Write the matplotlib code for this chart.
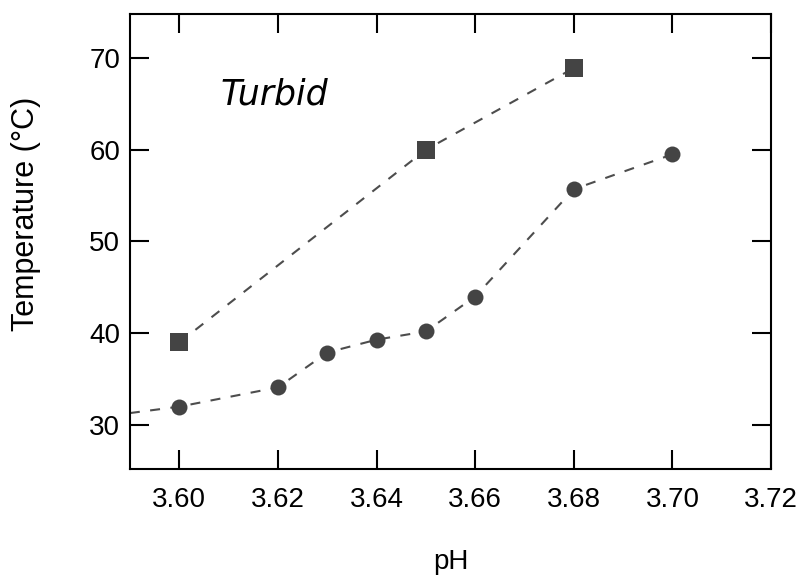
import matplotlib
matplotlib.use("Agg")
import matplotlib.pyplot as plt

plt.rcParams['font.family'] = ['Liberation Sans', 'DejaVu Sans']

# circles: line extends to a point left of the axis
ph_circle = [3.58, 3.60, 3.62, 3.63, 3.64, 3.65, 3.66, 3.68, 3.70]
temp_circle = [30.6, 32.0, 34.1, 37.9, 39.3, 40.2, 44.0, 55.7, 59.5]

ph_square = [3.60, 3.65, 3.68]
temp_square = [39.0, 60.0, 68.9]

fig = plt.figure(figsize=(8.04, 5.75), dpi=100)
ax = fig.add_axes([0.1617, 0.1843, 0.7973, 0.7914])

ax.plot(ph_circle, temp_circle, ls=(5.6, (4.8, 5)), color='#4d4d4d', lw=1.5, zorder=2)
ax.plot(ph_circle[1:], temp_circle[1:], 'o', ms=11.5, mew=0, color='#444444', zorder=3)
ax.plot(ph_square, temp_square, ls=(0, (4.8, 5)), color='#4d4d4d', lw=1.5, zorder=2)
ax.plot(ph_square, temp_square, 's', ms=12.3, mew=0, color='#444444', zorder=3)

ax.text(3.6083, 66.0, 'Turbid', fontsize=25, style='italic', family='DejaVu Sans',
        ha='left', va='center')

ax.set_xlim(3.59, 3.72)
ax.set_ylim(25.2, 74.8)
ax.set_xticks([3.60, 3.62, 3.64, 3.66, 3.68, 3.70, 3.72])
ax.set_xticklabels(['3.60', '3.62', '3.64', '3.66', '3.68', '3.70', '3.72'])
ax.set_yticks([30, 40, 50, 60, 70])

ax.tick_params(direction='in', length=14, width=1.5, labelsize=20,
               top=True, right=True)
ax.tick_params(axis='x', pad=13)
ax.tick_params(axis='y', pad=7)
for s in ax.spines.values():
    s.set_linewidth(1.5)

ax.set_xlabel('pH', fontsize=20, labelpad=26)
ax.set_ylabel('Temperature (°C)', fontsize=22)
ax.yaxis.set_label_coords(-0.139, 0.56)

fig.savefig('out.png', dpi=100)
